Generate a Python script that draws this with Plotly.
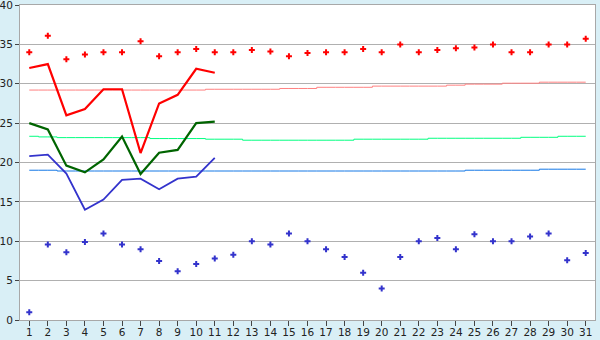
import plotly.graph_objects as go

days = list(range(1, 32))

max_temp = [34.0, 36.1, 33.1, 33.7, 34.0, 34.0, 35.4, 33.5, 34.0, 34.4,
            34.0, 34.0, 34.3, 34.1, 33.5, 33.9, 34.0, 34.0, 34.4, 34.0,
            35.0, 34.0, 34.3, 34.5, 34.6, 35.0, 34.0, 34.0, 35.0, 35.0, 35.7]

min_temp = [1.0, 9.6, 8.6, 9.9, 11.0, 9.6, 9.0, 7.5, 6.2, 7.1,
            7.8, 8.3, 10.0, 9.6, 11.0, 10.0, 9.0, 8.0, 6.0, 4.0,
            8.0, 10.0, 10.4, 9.0, 10.9, 10.0, 10.0, 10.6, 11.0, 7.6, 8.5]

line_days = list(range(1, 12))
high_line = [32.0, 32.5, 26.0, 26.8, 29.3, 29.3, 21.2, 27.5, 28.6, 31.9, 31.4]
mean_line = [25.0, 24.2, 19.6, 18.75, 20.4, 23.3, 18.55, 21.25, 21.6, 25.0, 25.2]
low_line = [20.8, 21.0, 18.6, 14.0, 15.3, 17.8, 17.95, 16.6, 17.95, 18.2, 20.6]

normal_high = [29.2] * 10 + [29.3] * 4 + [29.4] * 2 + [29.55] * 3 + [29.7] * 4 + \
              [29.82] + [29.95] * 2 + [30.07] * 2 + [30.2] * 3
normal_mean = [23.33, 23.25] + [23.16] * 5 + [23.04] * 3 + [22.96] * 2 + [22.83] * 6 + \
              [22.96] * 4 + [23.08] * 5 + [23.2] * 2 + [23.33] * 2
normal_low = [19.02] * 2 + [18.92] * 22 + [19.02] * 4 + [19.15] * 3

y_ticks = [0, 5, 10, 15, 20, 25, 30, 35, 40]

fig = go.Figure()

fig.add_trace(go.Scatter(x=days, y=normal_high, mode="lines", line=dict(color="#ff8080", width=1, shape="hvh")))
fig.add_trace(go.Scatter(x=days, y=normal_mean, mode="lines", line=dict(color="#00ff80", width=1, shape="hvh")))
fig.add_trace(go.Scatter(x=days, y=normal_low, mode="lines", line=dict(color="#1478e6", width=1, shape="hvh")))

fig.add_trace(go.Scatter(x=line_days, y=high_line, mode="lines", line=dict(color="#ff0000", width=2.2)))
fig.add_trace(go.Scatter(x=line_days, y=mean_line, mode="lines", line=dict(color="#006400", width=2.2)))
fig.add_trace(go.Scatter(x=line_days, y=low_line, mode="lines", line=dict(color="#3333cc", width=1.8)))

fig.add_trace(go.Scatter(x=days, y=max_temp, mode="markers",
                         marker=dict(symbol="cross", size=5, color="#ff0000", line=dict(width=0))))
fig.add_trace(go.Scatter(x=days, y=min_temp, mode="markers",
                         marker=dict(symbol="cross", size=5, color="#3333cc", line=dict(width=0))))

fig.update_layout(
    width=600, height=340,
    margin=dict(l=20, r=5, t=5, b=20),
    paper_bgcolor="#d9eff6",
    plot_bgcolor="#ffffff",
    showlegend=False,
    font=dict(family="DejaVu Sans", size=10.5, color="#222222"),
)
fig.update_xaxes(
    range=[0.5, 31.5], tickvals=days, ticktext=[str(d) for d in days],
    showgrid=False, zeroline=False, automargin=False,
    showline=True, linecolor="#a8a8a8", linewidth=1, mirror=True,
    ticks="outside", ticklen=5, tickcolor="#444444", tickwidth=1,
    tickfont=dict(size=10.5), ticklabeloverflow="allow", ticklabelstandoff=-3,
)
fig.update_yaxes(
    range=[0, 40], tickvals=y_ticks,
    showgrid=True, gridcolor="#b0b0b0", gridwidth=1, zeroline=False, automargin=False,
    showline=True, linecolor="#a8a8a8", linewidth=1, mirror=True,
    ticks="outside", ticklen=4, tickcolor="#444444", tickwidth=1,
    tickfont=dict(size=10.5), ticklabeloverflow="allow", ticklabelstandoff=0,
)

fig.write_html("out.html")
